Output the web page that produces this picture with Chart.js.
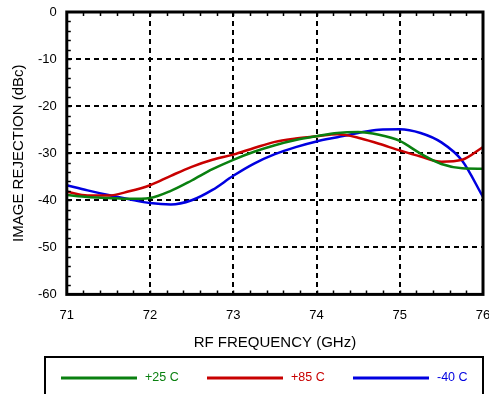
<!DOCTYPE html>
<html>
<head>
<meta charset="utf-8">
<script src="https://cdn.jsdelivr.net/npm/chart.js@4.4.1/dist/chart.umd.min.js"></script>
<style>
  html, body { margin: 0; padding: 0; background: #fff; }
  #wrap { width: 489px; height: 394px; }
</style>
</head>
<body>
<div id="wrap"><canvas id="myChart"></canvas></div>
<script>
var freqs = [71, 71.25, 71.5, 71.75, 72, 72.25, 72.5, 72.75, 73, 73.25, 73.5,
             73.75, 74, 74.25, 74.5, 74.75, 75, 75.25, 75.5, 75.75, 76];

var temp25 = [-38.9, -39.3, -39.5, -39.7, -39.5, -38.0, -35.8, -33.4, -31.4, -29.7, -28.3,
              -27.2, -26.4, -25.7, -25.5, -26.1, -27.4, -30.1, -32.3, -33.2, -33.3];
var temp85 = [-38.2, -39.0, -39.0, -38.1, -36.8, -34.8, -32.9, -31.4, -30.3, -28.9, -27.6,
              -26.9, -26.4, -26.0, -26.7, -28.0, -29.4, -30.7, -31.8, -31.4, -28.7];
var tempM40 = [-36.8, -37.9, -38.9, -39.8, -40.6, -40.9, -40.0, -37.8, -34.8, -32.2, -30.2,
               -28.7, -27.5, -26.6, -25.7, -25.0, -24.9, -25.7, -27.7, -31.6, -39.3];

var seriesNames = ['+25 C', '+85 C', '-40 C'];
var seriesColors = ['#0a8010', '#c80000', '#0000e0'];

var xTicks = [71, 72, 73, 74, 75, 76];
var yTicks = [0, -10, -20, -30, -40, -50, -60];

var FONT = 'Liberation Sans, Arial, sans-serif';

function toPoints(values) {
    return values.map(function (v, i) { return { x: freqs[i], y: v }; });
}

// thick frame round the plot plus the small inside ticks
var frameAndMinorTicks = {
    id: 'frameAndMinorTicks',
    afterDatasetsDraw: function (chart) {
        var ctx = chart.ctx;
        var a = chart.chartArea;
        var xs = chart.scales.x, ys = chart.scales.y;
        ctx.save();
        ctx.strokeStyle = '#000';
        ctx.lineWidth = 1.5;
        for (var f = 71.2; f < 76; f += 0.2) {
            var px = Math.round(xs.getPixelForValue(f)) + 0.5;
            ctx.beginPath();
            ctx.moveTo(px, a.bottom); ctx.lineTo(px, a.bottom - 4);
            ctx.moveTo(px, a.top); ctx.lineTo(px, a.top + 4);
            ctx.stroke();
        }
        for (var d = -2; d > -60; d -= 2) {
            var py = Math.round(ys.getPixelForValue(d)) + 0.5;
            ctx.beginPath();
            ctx.moveTo(a.left, py); ctx.lineTo(a.left + 4, py);
            ctx.stroke();
        }
        ctx.lineWidth = 3;
        ctx.strokeRect(a.left, a.top, a.right - a.left, a.bottom - a.top);
        ctx.restore();
    }
};

// boxed legend under the axis title, cut by the page bottom
var boxedLegend = {
    id: 'boxedLegend',
    afterDraw: function (chart) {
        var ctx = chart.ctx;
        var starts = [61, 207, 353];
        var lineY = 378;
        ctx.save();
        ctx.strokeStyle = '#000';
        ctx.lineWidth = 2;
        ctx.strokeRect(45, 357, 438, 60);
        ctx.font = '12.5px ' + FONT;
        ctx.textBaseline = 'middle';
        seriesNames.forEach(function (name, i) {
            ctx.strokeStyle = seriesColors[i];
            ctx.lineWidth = 3;
            ctx.beginPath();
            ctx.moveTo(starts[i], lineY);
            ctx.lineTo(starts[i] + 76, lineY);
            ctx.stroke();
            ctx.fillStyle = seriesColors[i];
            ctx.fillText(name, starts[i] + 84, lineY);
        });
        ctx.restore();
    }
};

document.addEventListener('DOMContentLoaded', function () {
    var chartContext = document.getElementById('myChart').getContext('2d');
    var allValues = [temp25, temp85, tempM40];

    new Chart(chartContext, {
        type: 'line',
        data: {
            datasets: allValues.map(function (vals, i) {
                return {
                    label: seriesNames[i],
                    data: toPoints(vals),
                    borderColor: seriesColors[i],
                    backgroundColor: seriesColors[i],
                    borderWidth: 2.5,
                    pointRadius: 0,
                    cubicInterpolationMode: 'monotone',
                    fill: false
                };
            })
        },
        options: {
            responsive: true,
            maintainAspectRatio: false,
            animation: false,
            layout: { padding: { left: 10, right: 6, top: 12, bottom: 37 } },
            scales: {
                x: {
                    type: 'linear',
                    min: 71,
                    max: 76,
                    afterBuildTicks: function (axis) {
                        axis.ticks = xTicks.map(function (v) { return { value: v }; });
                    },
                    afterFit: function (axis) {
                        // let the last label run off the edge
                        axis.paddingRight = 0;
                        axis.paddingLeft = 0;
                    },
                    ticks: {
                        color: '#000',
                        font: { family: FONT, size: 13 },
                        padding: 13,
                        maxRotation: 0
                    },
                    grid: { color: '#000', lineWidth: 2, drawTicks: false },
                    border: { display: false, dash: [5, 4] },
                    title: {
                        display: true,
                        text: 'RF FREQUENCY (GHz)',
                        color: '#000',
                        font: { family: FONT, size: 15 },
                        padding: { top: -2, bottom: 5 }
                    }
                },
                y: {
                    min: -60,
                    max: 0,
                    afterBuildTicks: function (axis) {
                        axis.ticks = yTicks.map(function (v) { return { value: v }; });
                    },
                    afterFit: function (axis) {
                        axis.paddingTop = 0;
                        axis.paddingBottom = 0;
                    },
                    ticks: {
                        color: '#000',
                        font: { family: FONT, size: 13 },
                        padding: 10
                    },
                    grid: { color: '#000', lineWidth: 2, drawTicks: false },
                    border: { display: false, dash: [5, 4] },
                    title: {
                        display: true,
                        text: 'IMAGE REJECTION (dBc)',
                        color: '#000',
                        font: { family: FONT, size: 15 },
                        padding: { top: 0, bottom: 0 }
                    }
                }
            },
            plugins: {
                legend: { display: false },
                tooltip: { enabled: false }
            }
        },
        plugins: [frameAndMinorTicks, boxedLegend]
    });
});
</script>
</body>
</html>
